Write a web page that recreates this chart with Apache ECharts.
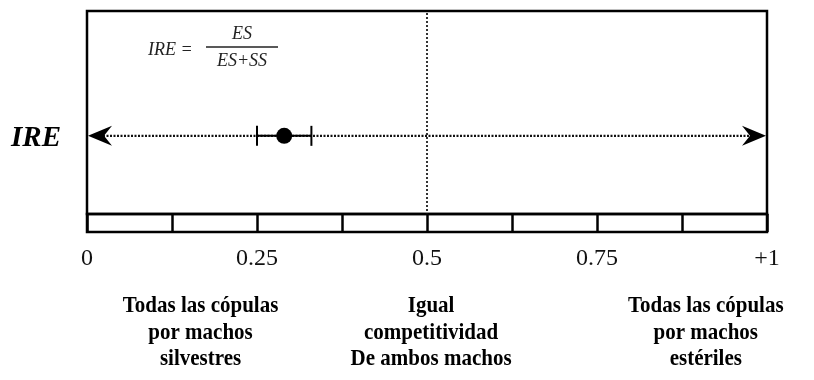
<!DOCTYPE html>
<html>
<head>
<meta charset="utf-8">
<script src="https://cdn.jsdelivr.net/npm/echarts@6/dist/echarts.min.js"></script>
<style>
  html, body { margin: 0; padding: 0; background: #fff; }
  #chart { width: 814px; height: 380px; }
</style>
</head>
<body>
<div id="chart"></div>
<script>
// Scale ticks (every 1/8) and the labelled positions on the IRE scale
const scaleStep = 0.125;
const tickValues = [0, 0.25, 0.5, 0.75, 1];
const tickLabels = ['0', '0.25', '0.5', '0.75', '+1'];

// Observed IRE estimate with its interval
const ireEstimate = [0.29];
const ireLow = [0.25];
const ireHigh = [0.33];

// Reference value: equal competitiveness
const equalLine = [0.5];

// Row height of the IRE track inside the plot (0 = bottom, 1 = top)
const rowLevel = 0.385;

// Captions under the scale: [x position on scale, lines]
const captionX = [0.167, 0.506, 0.91];
const captionLines = [
  ['Todas las cópulas', 'por machos', 'silvestres'],
  ['Igual', 'competitividad', 'De ambos machos'],
  ['Todas las cópulas', 'por machos', 'estériles']
];

const SERIF = '"Liberation Serif", "Times New Roman", serif';
const chart = echarts.init(document.getElementById('chart'), null, { renderer: 'canvas' });

const GRID_LEFT = 87, GRID_RIGHT = 47;

function arrowHead(tip, dir, y, style) {
  // notched arrowhead whose tip sits exactly on the given point
  const L = 24, H = 10, N = 16;
  return {
    type: 'polygon',
    shape: { points: [
      [tip, y],
      [tip + dir * L, y - H],
      [tip + dir * N, y],
      [tip + dir * L, y + H]
    ] },
    style: style
  };
}

const option = {
  animation: false,
  backgroundColor: '#fff',
  grid: [
    { left: GRID_LEFT, right: GRID_RIGHT, top: 11, height: 203, show: true,
      borderColor: '#000', borderWidth: 2.5, backgroundColor: 'transparent' },
    { left: GRID_LEFT, right: GRID_RIGHT, top: 214, height: 18, show: true,
      borderColor: '#000', borderWidth: 2.5, backgroundColor: 'transparent' }
  ],
  xAxis: [
    { gridIndex: 0, type: 'value', min: 0, max: 1, show: false },
    { gridIndex: 1, type: 'value', min: 0, max: 1, interval: scaleStep,
      axisLine: { show: false }, axisTick: { show: false },
      splitLine: { show: true, lineStyle: { color: '#000', width: 2.5 } },
      axisLabel: {
        margin: 15,
        fontFamily: SERIF, fontSize: 24, color: '#111',
        formatter: function (v) {
          const i = tickValues.findIndex(t => Math.abs(t - v) < 1e-9);
          return i >= 0 ? tickLabels[i] : '';
        }
      }
    }
  ],
  yAxis: [
    { gridIndex: 0, type: 'value', min: 0, max: 1, show: false },
    { gridIndex: 1, type: 'value', min: 0, max: 1, show: false }
  ],
  series: [
    {
      // equal-competitiveness reference line
      type: 'custom', xAxisIndex: 0, yAxisIndex: 0,
      data: equalLine.map(v => [v]),
      renderItem: function (params, api) {
        const top = api.coord([api.value(0), 1]);
        const bot = api.coord([api.value(0), 0]);
        return {
          type: 'line',
          shape: { x1: top[0], y1: top[1] + 2, x2: bot[0], y2: bot[1] },
          style: { stroke: '#111', lineWidth: 1.7, lineDash: [2, 2] }
        };
      },
      z: 2
    },
    {
      // dotted IRE track with arrowheads at both ends of the scale
      type: 'custom', xAxisIndex: 0, yAxisIndex: 0,
      data: [[0, 1, rowLevel]],
      renderItem: function (params, api) {
        const a = api.coord([api.value(0), api.value(2)]);
        const b = api.coord([api.value(1), api.value(2)]);
        const st = { fill: '#000' };
        return {
          type: 'group',
          children: [
            { type: 'line', shape: { x1: a[0] + 16, y1: a[1], x2: b[0] - 16, y2: b[1] },
              style: { stroke: '#111', lineWidth: 2.2, lineDash: [2, 1.5] } },
            arrowHead(a[0] + 1, 1, a[1], st),
            arrowHead(b[0] - 1, -1, b[1], st)
          ]
        };
      },
      z: 3
    },
    {
      // interval bar with end caps and the point estimate
      type: 'custom', xAxisIndex: 0, yAxisIndex: 0,
      data: ireEstimate.map((v, i) => [v, ireLow[i], ireHigh[i], rowLevel]),
      renderItem: function (params, api) {
        const y = api.value(3);
        const c = api.coord([api.value(0), y]);
        const lo = api.coord([api.value(1), y]);
        const hi = api.coord([api.value(2), y]);
        const cap = 10;
        const ls = { stroke: '#000', lineWidth: 2 };
        return {
          type: 'group',
          children: [
            { type: 'line', shape: { x1: lo[0], y1: lo[1], x2: hi[0], y2: hi[1] }, style: ls },
            { type: 'line', shape: { x1: lo[0], y1: lo[1] - cap, x2: lo[0], y2: lo[1] + cap }, style: ls },
            { type: 'line', shape: { x1: hi[0], y1: hi[1] - cap, x2: hi[0], y2: hi[1] + cap }, style: ls },
            { type: 'circle', shape: { cx: c[0], cy: c[1], r: 8 }, style: { fill: '#000' } }
          ]
        };
      },
      z: 4
    }
  ],
  graphic: []
};

// Row label on the left
option.graphic.push({
  type: 'text', left: 11, top: 124,
  style: { text: 'IRE', font: 'italic bold 29px ' + SERIF, fill: '#000' }
});

// Formula IRE = ES / (ES+SS)
const FORMULA_FONT = 'italic 18px ' + SERIF;
option.graphic.push(
  { type: 'text', x: 148, y: 50, style: { text: 'IRE =', font: FORMULA_FONT, fill: '#222', verticalAlign: 'middle' } },
  { type: 'text', x: 242, y: 34, style: { text: 'ES', font: FORMULA_FONT, fill: '#222', align: 'center', verticalAlign: 'middle' } },
  { type: 'line', shape: { x1: 206, y1: 47, x2: 278, y2: 47 }, style: { stroke: '#222', lineWidth: 1.3 } },
  { type: 'text', x: 242, y: 61, style: { text: 'ES+SS', font: FORMULA_FONT, fill: '#222', align: 'center', verticalAlign: 'middle' } }
);

chart.setOption(option);

// Captions placed under their scale positions
const captions = captionX.map((v, i) => {
  const px = chart.convertToPixel({ xAxisIndex: 1 }, v);
  return {
    type: 'text', x: px, y: 293, scaleY: 1.08, originX: 0, originY: 0,
    style: {
      text: captionLines[i].join('\n'),
      font: 'bold 21px ' + SERIF, fill: '#000',
      align: 'center', verticalAlign: 'top', lineHeight: 24.5
    }
  };
});
chart.setOption({ graphic: option.graphic.concat(captions) });
</script>
</body>
</html>
